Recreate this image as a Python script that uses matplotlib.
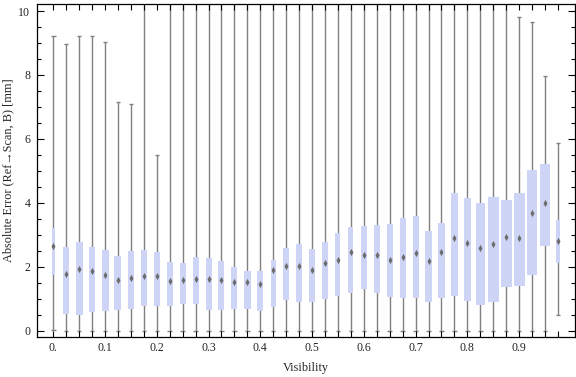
import matplotlib
matplotlib.use("Agg")
import matplotlib.pyplot as plt
import numpy as np
from matplotlib.path import Path
from matplotlib.ticker import FixedLocator

# ---------------- data ----------------
visibility = [0.000, 0.025, 0.050, 0.075, 0.100, 0.125, 0.150, 0.175, 0.200, 0.225,
              0.250, 0.275, 0.300, 0.325, 0.350, 0.375, 0.400, 0.425, 0.450, 0.475,
              0.500, 0.525, 0.550, 0.575, 0.600, 0.625, 0.650, 0.675, 0.700, 0.725,
              0.750, 0.775, 0.800, 0.825, 0.850, 0.875, 0.900, 0.925, 0.950, 0.975]

whisker_min = [0.03, 0.0, 0.0, 0.0, 0.0, 0.0, 0.0, 0.0, 0.0, 0.0,
               0.0, 0.0, 0.0, 0.0, 0.0, 0.0, 0.0, 0.0, 0.0, 0.0,
               0.0, 0.0, 0.0, 0.0, 0.0, 0.0, 0.0, 0.0, 0.0, 0.0,
               0.0, 0.0, 0.0, 0.0, 0.0, 0.0, 0.0, 0.0, 0.0, 0.47]

q1 = [1.75, 0.52, 0.49, 0.59, 0.62, 0.64, 0.68, 0.77, 0.78, 0.77,
      0.83, 0.84, 0.65, 0.65, 0.68, 0.68, 0.62, 0.73, 0.94, 0.90,
      0.90, 1.00, 1.09, 1.18, 1.30, 1.17, 1.06, 1.03, 1.03, 0.90,
      1.03, 1.09, 0.93, 0.81, 0.90, 1.37, 1.40, 1.75, 2.65, 2.12]

median = [2.65, 1.76, 1.92, 1.85, 1.75, 1.58, 1.63, 1.71, 1.71, 1.56,
          1.58, 1.61, 1.62, 1.57, 1.53, 1.51, 1.46, 1.88, 2.02, 2.02,
          1.90, 2.12, 2.21, 2.46, 2.37, 2.36, 2.21, 2.29, 2.42, 2.17,
          2.46, 2.90, 2.75, 2.57, 2.72, 2.94, 2.89, 3.69, 3.99, 2.81]

q3 = [3.21, 2.61, 2.77, 2.61, 2.52, 2.33, 2.49, 2.52, 2.46, 2.14,
      2.10, 2.30, 2.27, 2.18, 1.99, 1.86, 1.86, 2.22, 2.58, 2.71,
      2.55, 2.77, 3.05, 3.24, 3.27, 3.30, 3.33, 3.52, 3.58, 3.11,
      3.37, 4.30, 4.15, 3.99, 4.18, 4.08, 4.30, 5.03, 5.21, 3.46]

whisker_max = [9.21, 8.96, 9.21, 9.21, 9.04, 7.15, 7.10, 12.0, 5.49, 12.0,
               12.0, 12.0, 12.0, 12.0, 12.0, 12.0, 12.0, 12.0, 12.0, 12.0,
               12.0, 12.0, 12.0, 12.0, 12.0, 12.0, 12.0, 12.0, 12.0, 12.0,
               12.0, 12.0, 12.0, 12.0, 12.0, 12.0, 9.80, 9.65, 7.96, 5.87]

# relative box widths (the reference draws boxes of differing width)
rel_width = [3, 6, 7, 6.5, 7, 7, 6, 6, 6, 6,
             6, 6, 6, 6, 6, 6.5, 6, 5, 5.5, 5.5,
             5.5, 5.5, 5, 5, 6, 6, 6, 6, 6, 7,
             7, 7, 7, 9, 11, 11, 11, 10, 10, 4]

x_major = [0.0, 0.1, 0.2, 0.3, 0.4, 0.5, 0.6, 0.7, 0.8, 0.9]
x_major_labels = ["0.", "0.1", "0.2", "0.3", "0.4", "0.5", "0.6", "0.7", "0.8", "0.9"]
y_major = [0, 2, 4, 6, 8, 10]
y_major_labels = ["0", "2", "4", "6", "8", "10"]

xlabel = "Visibility"
ylabel = "Absolute Error (Ref\u2192Scan, B) [mm]"

# ---------------- styling ----------------
W, H, DPI = 576, 377, 100
fam = ["Liberation Serif", "DejaVu Serif"]
plt.rcParams["font.family"] = fam
text_color = "#262626"
box_color = "#cdd4f5"
whisker_color = "#808080"
marker_color = "#6c6c6c"

ax_left, ax_right, ax_top, ax_bottom = 36.7, 575.0, 4.3, 336.7
xlim = (-0.032, 1.008)
ylim = (-0.194, 10.21)

fig = plt.figure(figsize=(W / DPI, H / DPI), dpi=DPI)
ax = fig.add_axes([ax_left / W, 1 - ax_bottom / H,
                   (ax_right - ax_left) / W, (ax_bottom - ax_top) / H])
ax.set_xlim(*xlim)
ax.set_ylim(*ylim)

data_per_px = (xlim[1] - xlim[0]) / (ax_right - ax_left)

x = np.array(visibility)
widths = np.array(rel_width) * data_per_px
cap = 4.5 * data_per_px

ax.vlines(x, whisker_min, whisker_max, color=whisker_color, lw=1.0, zorder=1)
ax.hlines(whisker_min, x - cap / 2, x + cap / 2, color=whisker_color, lw=1.0, zorder=1)
ax.hlines(whisker_max, x - cap / 2, x + cap / 2, color=whisker_color, lw=1.0, zorder=1)
ax.bar(x, np.array(q3) - np.array(q1), bottom=q1, width=widths,
       color=box_color, lw=0, zorder=2)

diamond = Path([(0, 1), (0.55, 0), (0, -1), (-0.55, 0), (0, 1)],
               [Path.MOVETO, Path.LINETO, Path.LINETO, Path.LINETO, Path.CLOSEPOLY])
ax.plot(x, median, ls="none", marker=diamond, ms=5.2, mfc=marker_color,
        mec=marker_color, mew=0, zorder=3)

# ticks
ax.set_xticks(x_major, x_major_labels)
ax.xaxis.set_minor_locator(FixedLocator(visibility))
ax.set_yticks(y_major, y_major_labels)
ax.yaxis.set_minor_locator(FixedLocator(list(np.arange(0, 10.01, 0.5))))

ax.tick_params(which="both", direction="in", top=True, right=True,
               color="black", width=0.8, labelsize=8.6, labelcolor=text_color)
ax.tick_params(axis="x", which="major", length=4.5, pad=4.0)
ax.tick_params(axis="x", which="minor", length=4.5)
ax.tick_params(axis="y", which="major", length=5, pad=4.5)
ax.tick_params(axis="y", which="minor", length=3)

for s in ax.spines.values():
    s.set_linewidth(0.9)
    s.set_color("black")

ax.set_xlabel(xlabel, fontsize=8.8, color=text_color, va="center")
ax.xaxis.set_label_coords(0.5, (ax_bottom - 368) / (ax_bottom - ax_top))
ax.set_ylabel(ylabel, fontsize=8.8, color=text_color, va="center")
ax.yaxis.set_label_coords((8 - ax_left) / (ax_right - ax_left), 0.5)

fig.savefig("out.png", dpi=DPI)
